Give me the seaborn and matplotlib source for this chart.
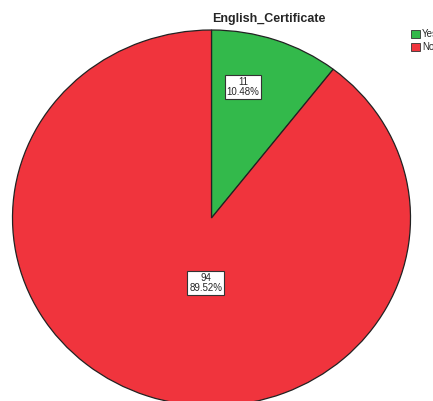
import matplotlib
matplotlib.use("Agg")
import matplotlib.pyplot as plt
import matplotlib.patches as mpatches
import seaborn as sns

sns.set_style("white")
plt.rcParams['font.family'] = ['Liberation Sans', 'DejaVu Sans']

title = "English_Certificate"
categories = ["Yes", "No"]
counts = [11, 94]
colors = ["#33b94b", "#f0343d"]
# label anchor positions (layout, in pie radius units)
label_pos = [(0.158, 0.697), (-0.028, -0.346)]

fig = plt.figure(figsize=(4.33, 4.01), dpi=100)
fig.patch.set_facecolor("white")
ax = fig.add_axes([12.5 / 433, (401 - 406) / 401, 398 / 433, 376 / 401])

total = sum(counts)
wedges, _ = ax.pie(counts, colors=colors, startangle=90, counterclock=False,
                   radius=1.0,
                   wedgeprops=dict(edgecolor="#222222", linewidth=0.9))
ax.set_aspect("auto")
ax.set_xlim(-1.0, 1.0)
ax.set_ylim(-1.0, 1.0)
ax.axis("off")

for c, (x, y) in zip(counts, label_pos):
    ax.text(x, y, f"{c}\n{100 * c / total:.2f}%", ha="center", va="center",
            fontsize=7, linespacing=0.95,
            bbox=dict(boxstyle="square,pad=0.2", facecolor="white",
                      edgecolor="#333333", linewidth=0.8))

fig.text(269 / 433, 1 - 19 / 401, title, ha="center", va="center",
         fontsize=9, fontweight="bold")

handles = [mpatches.Patch(facecolor=col, edgecolor="#333333", linewidth=0.6, label=cat)
           for col, cat in zip(colors, categories)]
fig.legend(handles=handles, loc="upper left", bbox_to_anchor=(411 / 433, 1 - 29 / 401),
           frameon=False, fontsize=7, handlelength=0.9, handleheight=0.9,
           handletextpad=0.25, labelspacing=0.3, borderaxespad=0, borderpad=0)

fig.savefig("out.png", dpi=100, facecolor="white")
